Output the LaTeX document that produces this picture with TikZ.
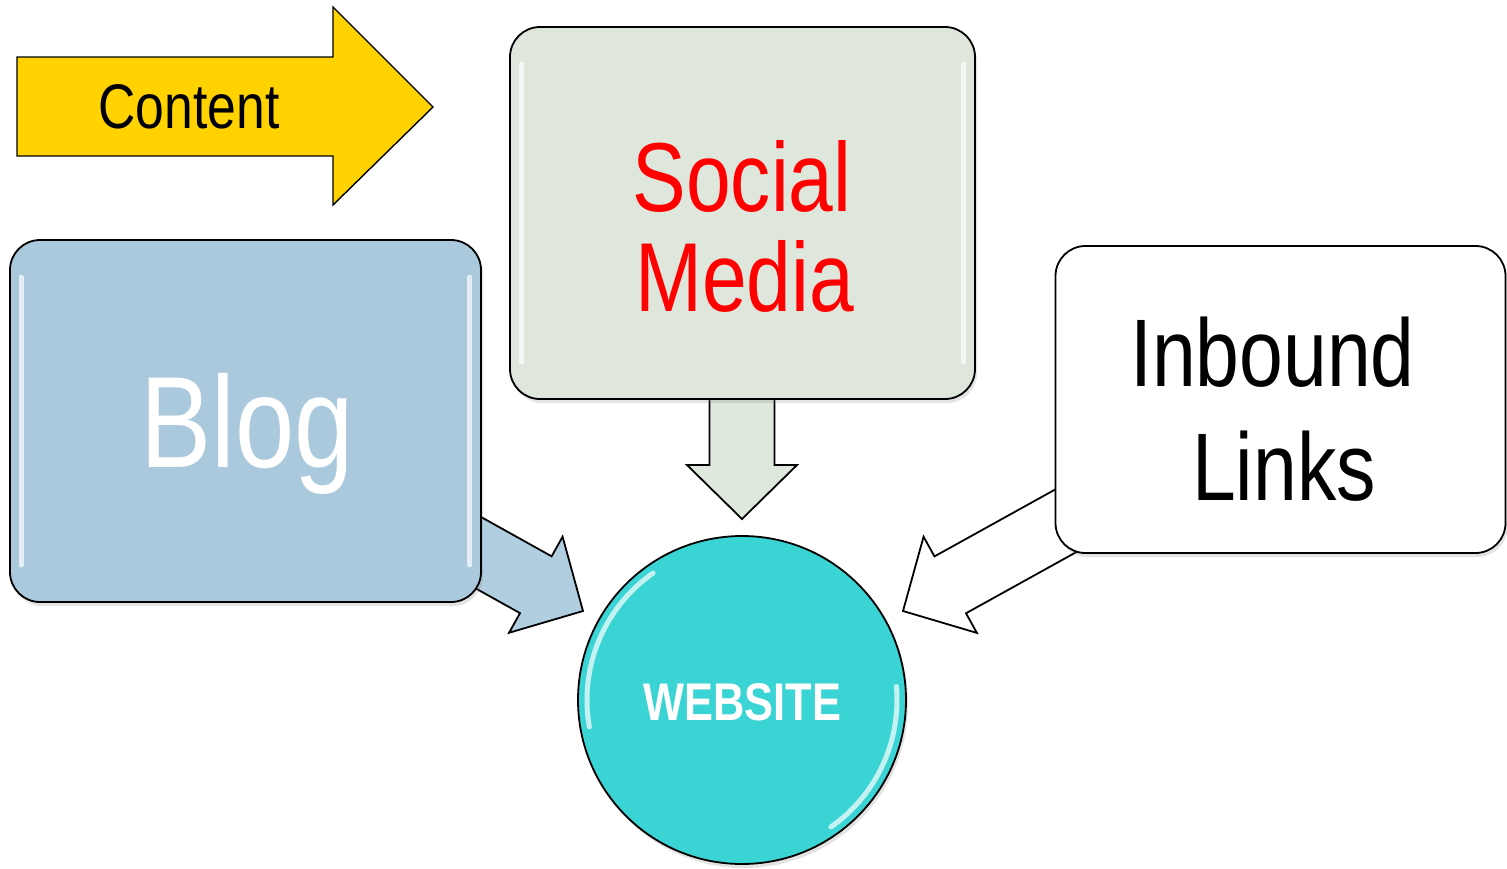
\documentclass[tikz,border=0pt]{standalone}
\usepackage{fontspec}
\setmainfont{Liberation Sans}[FakeStretch=0.82]
\usepackage{tikz}
\usepackage{xcolor}
\usetikzlibrary{calc,backgrounds,shadows}

\definecolor{contentyellow}{RGB}{255,210,0}
\definecolor{blogblue}{RGB}{171,201,220}
\definecolor{blogfill}{RGB}{177,206,224}
\definecolor{socialgrey}{RGB}{223,230,220}
\definecolor{socialfill}{RGB}{222,232,220}
\definecolor{webcyan}{RGB}{58,212,212}

% block arrow sizes
\newcommand{\arrshaft}{32.5pt}
\newcommand{\arrhead}{55pt}
\newcommand{\arrlen}{54pt}

% block arrow from #2 to the tip #3
\newcommand{\blockarrow}[3][]{%
	\draw[flow,#1] ($(#2)!\arrshaft!90:(#3)$)
		-- ($(#3)!\arrlen!(#2)!\arrshaft!-90:(#2)$)
		-- ($(#3)!\arrlen!(#2)!\arrhead!-90:(#2)$)
		-- (#3)
		-- ($(#3)!\arrlen!(#2)!\arrhead!90:(#2)$)
		-- ($(#3)!\arrlen!(#2)!\arrshaft!90:(#2)$)
		-- ($(#2)!\arrshaft!-90:(#3)$) -- cycle;}

\begin{document}
\begin{tikzpicture}[x=1pt, y=-1pt,
	box/.style={draw=black, line width=1.8pt, rounded corners=30pt, inner sep=0pt},
	boxshadow/.style={drop shadow={shadow xshift=2pt, shadow yshift=-4pt, opacity=.22}},
	flow/.style={draw=black, line width=1.8pt, line join=miter},
	gloss/.style={white, line width=5pt, line cap=round, opacity=.7},
	bigtext/.style={font=\fontsize{#1}{#1}\selectfont, inner sep=0pt, anchor=base}]
	\useasboundingbox (0,0) rectangle (1507,868);

	% arrow ends
	\coordinate (blogfrom) at (443,533);
	\coordinate (blogtip) at (583,611);
	\coordinate (socialfrom) at (742,390);
	\coordinate (socialtip) at (742,519);
	\coordinate (inboundfrom) at (1078,514);
	\coordinate (inboundtip) at (903,611);

	% content arrow
	\draw[flow, line width=1.4pt, fill=contentyellow] (17,57) -- (333,57) -- (333,7) -- (433,107)
		-- (333,205) -- (333,156) -- (17,156) -- cycle;
	\node[bigtext=63] (contentlbl) at (189,128) {Content};

	% boxes
	\node[box, boxshadow, fill=blogblue, minimum width=471pt, minimum height=362pt] (blog) at (245.5,421) {};
	\node[box, boxshadow, fill=socialgrey, minimum width=465pt, minimum height=372pt] (social) at (742.5,213) {};
	\node[box, boxshadow, fill=white, minimum width=450pt, minimum height=307pt] (inbound) at (1280.5,399.5) {};
	\node[circle, draw=black, line width=1.8pt, fill=webcyan, minimum size=328pt, inner sep=0pt, boxshadow] (web) at (742,700) {};

	\foreach \n in {blog,social}
	{
		\draw[gloss] ([shift={(12,38)}]\n.north west) -- ([shift={(12,-38)}]\n.south west);
		\draw[gloss] ([shift={(-12,38)}]\n.north east) -- ([shift={(-12,-38)}]\n.south east);
	}
	\draw[gloss] ([shift={(125:155pt)}]web.center) arc[start angle=125, end angle=190, radius=155pt];
	\draw[gloss] ([shift={(-55:155pt)}]web.center) arc[start angle=-55, end angle=5, radius=155pt];

	% labels
	\node[bigtext=130, text=white] (bloglbl) at (247,467) {Blog};
	\node[bigtext=98, text=red] (sociallbl) at (742,211) {Social};
	\node[bigtext=98, text=red] (medialbl) at (744.5,311) {Media};
	\node[bigtext=96] (inboundlbl) at (1272.5,386) {Inbound};
	\node[bigtext=96] (linkslbl) at (1284,500) {Links};
	\node[bigtext=53, text=white, font=\fontsize{53}{53}\selectfont\bfseries] (weblbl) at (742,720) {WEBSITE};

	% arrows behind the boxes
	\begin{pgfonlayer}{background}
		\blockarrow[fill=blogfill]{blogfrom}{blogtip}
		\blockarrow[fill=socialfill]{socialfrom}{socialtip}
		\blockarrow[fill=white]{inboundfrom}{inboundtip}
	\end{pgfonlayer}
\end{tikzpicture}
\end{document}
